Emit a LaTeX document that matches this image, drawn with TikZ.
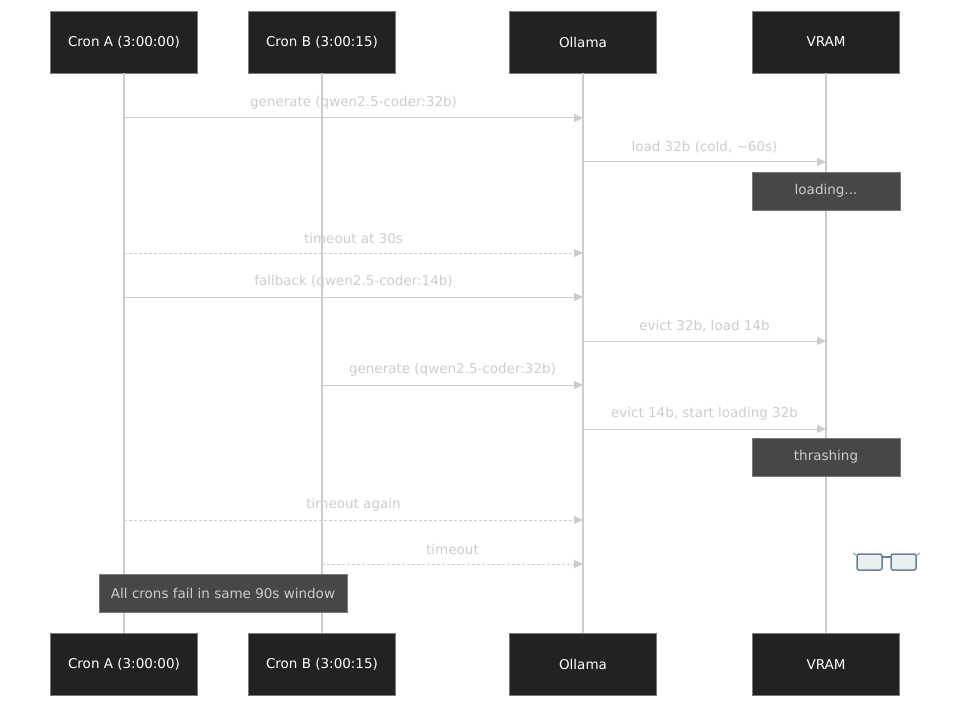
\documentclass[tikz,border=0pt]{standalone}
\usepackage{fontspec}
\setmainfont{DejaVu Sans}
\usetikzlibrary{arrows.meta,calc}
\definecolor{boxf}{HTML}{222222}
\definecolor{ln}{HTML}{CCCCCC}
\definecolor{notef}{HTML}{474747}
\definecolor{lbl}{HTML}{CCCCCC}
\definecolor{gl}{HTML}{6B7F99}
\definecolor{glf}{HTML}{E8F0F0}
\begin{document}
\begin{tikzpicture}[x=1pt,y=-1pt,
  actor/.style={draw=boxf!60,fill=boxf,text=white,minimum width=147pt,minimum height=62pt,inner sep=0pt,font=\fontsize{13.5}{16}\selectfont},
  note/.style={draw=boxf!60,fill=notef,text=lbl,minimum height=38pt,inner sep=0pt,font=\fontsize{13.5}{16}\selectfont},
  life/.style={draw=ln,line width=1.2pt},
  msg/.style={draw=ln,line width=1pt,-{Triangle[length=9pt,width=8pt]}},
  dmsg/.style={msg,dash pattern=on 3pt off 2pt},
  lab/.style={text=lbl,font=\fontsize{13.5}{16}\selectfont,inner sep=0pt}]
\useasboundingbox (0,0) rectangle (958,714);
\foreach \n/\x/\t in {a/124/Cron A (3:00:00),b/322/Cron B (3:00:15),o/583/Ollama,v/826/VRAM}{
  \node[actor] (\n t) at (\x,42) {\t};
  \node[actor] (\n b) at (\x,664.5) {\t};
  \draw[life] (\n t.south) -- (\n b.north);
}
\foreach \y/\f/\g/\s/\t in {118/a/o/msg/generate (qwen2.5-coder:32b),162/o/v/msg/{load 32b (cold, \textasciitilde60s)},253/a/o/dmsg/timeout at 30s,297/a/o/msg/fallback (qwen2.5-coder:14b),341/o/v/msg/{evict 32b, load 14b},385/b/o/msg/generate (qwen2.5-coder:32b),429/o/v/msg/{evict 14b, start loading 32b},520/a/o/dmsg/timeout again,564/b/o/dmsg/timeout}{
  \coordinate (s\y) at (\f t.south |- 0,\y);
  \coordinate (e\y) at (\g t.south |- 0,\y);
  \draw[\s] (s\y) -- (e\y);
  \node[lab] (l\y) at ($(s\y)!0.5!(e\y)+(0,-15)$) {\t};
}
\node[note,minimum width=148pt] (n1) at (826,191) {loading...};
\node[note,minimum width=148pt] (n2) at (826,457) {thrashing};
\node[note,minimum width=248pt] (n3) at (223,593) {All crons fail in same 90s window};
% glasses
\draw[gl,line width=1.5pt,fill=glf,rounded corners=2pt] (857,554) rectangle (882,570);
\draw[gl,line width=1.5pt,fill=glf,rounded corners=2pt] (891,554) rectangle (916,570);
\draw[gl,line width=1.5pt] (882,557) -- (891,557);
\draw[teal!60,line width=1pt] (857,556) -- (853,553) (916,556) -- (920,553);
\end{tikzpicture}
\end{document}
